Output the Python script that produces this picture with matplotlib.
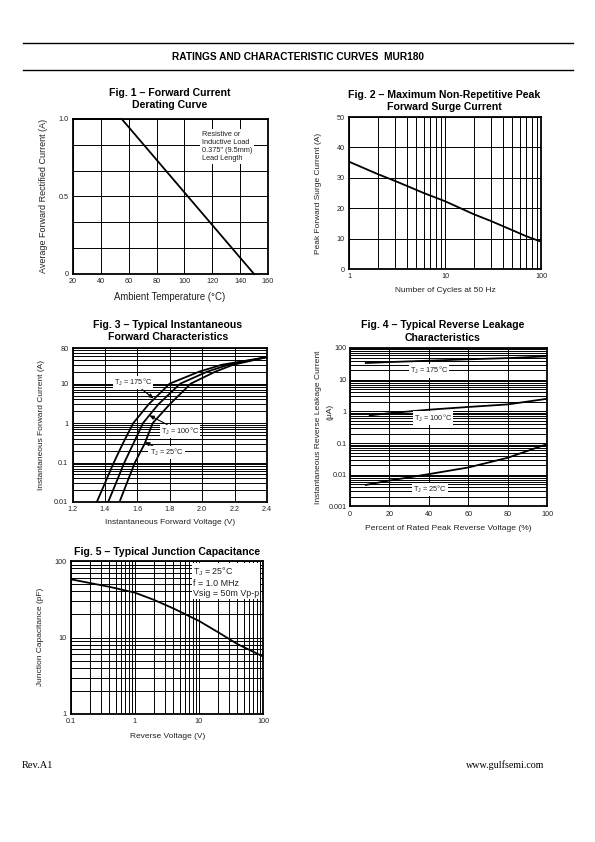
import numpy as np
import matplotlib
matplotlib.use("Agg")
import matplotlib.pyplot as plt
from matplotlib.ticker import FixedLocator, NullFormatter, LogLocator

plt.rcParams['font.family'] = ['Liberation Sans', 'DejaVu Sans']

# ---------------- data ----------------
fig1_temp = [20, 55, 150]
fig1_current = [1.0, 1.0, 0.0]

fig2_cycles = [1, 2, 3, 6, 10, 20, 30, 50, 70, 100]
fig2_current = [35.3, 31.2, 29.0, 25.0, 22.3, 18.0, 15.8, 12.8, 10.8, 9.0]

fig3_current = [0.01, 0.03, 0.1, 0.3, 1, 3, 10, 20, 30, 47]
fig3_v175 = [1.35, 1.40, 1.455, 1.51, 1.575, 1.67, 1.80, 1.98, 2.12, 2.40]
fig3_v100 = [1.42, 1.468, 1.52, 1.575, 1.635, 1.73, 1.865, 2.03, 2.16, 2.40]
fig3_v25 = [1.49, 1.535, 1.585, 1.645, 1.695, 1.80, 1.93, 2.08, 2.19, 2.40]

fig4_pct175 = [8, 20, 40, 60, 80, 100]
fig4_i175 = [33.6, 36.0, 39.8, 44.0, 48.0, 54.6]
fig4_pct100 = [10, 20, 40, 60, 80, 100]
fig4_i100 = [0.75, 0.88, 1.13, 1.38, 1.66, 2.5]
fig4_pct25 = [8, 20, 40, 60, 80, 100]
fig4_i25 = [0.0048, 0.0066, 0.0105, 0.017, 0.0344, 0.093]

fig5_voltage = [0.1, 0.4, 1, 2, 4, 10, 20, 40, 100]
fig5_cap = [57.7, 46.0, 38.6, 31.0, 24.0, 16.5, 11.7, 8.2, 5.65]

# ---------------- figure ----------------
W, H = 595, 842
fig = plt.figure(figsize=(5.95, 8.42), dpi=100)
fig.patch.set_facecolor('white')


def px_axes(x0, y0, x1, y1):
    return fig.add_axes([x0 / W, 1 - y1 / H, (x1 - x0) / W, (y1 - y0) / H])


def ftext(x, y, s, **kw):
    return fig.text(x / W, 1 - y / H, s, **kw)


TICK_FS = 5.2
LABEL_FS = 6.0
TITLE_FS = 7.55
GRID_KW = dict(color='black', linewidth=0.7)


def style(ax):
    for sp in ax.spines.values():
        sp.set_linewidth(1.3)
        sp.set_color('black')
    ax.tick_params(which='both', length=0, labelsize=TICK_FS, pad=3,
                   labelcolor='#222222')
    ax.set_axisbelow(True)


# header
fig.add_artist(plt.Line2D([22.7 / W, 573 / W], [1 - 43.3 / H, 1 - 43.3 / H],
                          color='black', linewidth=1.0))
fig.add_artist(plt.Line2D([22.7 / W, 573 / W], [1 - 70.3 / H, 1 - 70.3 / H],
                          color='black', linewidth=1.0))
ftext(297.5, 56.5, 'RATINGS AND CHARACTERISTIC CURVES  MUR180',
      ha='center', va='center', fontsize=7.3, fontweight='bold')

# ---------------- Fig 1 ----------------
ax1 = px_axes(73, 119, 268, 274)
ax1.plot(fig1_temp, fig1_current, color='black', linewidth=1.3, clip_on=False)
ax1.set_xlim(20, 160)
ax1.set_ylim(0, 1.0)
ax1.set_xticks([20, 40, 60, 80, 100, 120, 140, 160])
ax1.set_yticks([0, 0.5, 1.0])
ax1.set_yticklabels(['0', '0.5', '1.0'])
ax1.yaxis.set_minor_locator(FixedLocator([1 / 6, 2 / 6, 4 / 6, 5 / 6]))
ax1.grid(True, which='both', **GRID_KW)
style(ax1)
ax1.text(112.5, 0.925, 'Resistive or\nInductive Load\n0.375" (9.5mm)\nLead Length',
         fontsize=5.3, va='top', ha='left', linespacing=1.25, color='#222222',
         bbox=dict(facecolor='white', edgecolor='none', pad=1.0))
ftext(170, 92.5, 'Fig. 1 – Forward Current', ha='center', va='center',
      fontsize=TITLE_FS, fontweight='bold')
ftext(170, 105, 'Derating Curve', ha='center', va='center',
      fontsize=TITLE_FS, fontweight='bold')
ftext(43, 196, 'Average Forward Rectified Current (A)', rotation=90,
      ha='center', va='center', fontsize=6.5, color='#222222')
ftext(170, 297, 'Ambient Temperature (°C)', ha='center', va='center',
      fontsize=6.9, color='#222222')

# ---------------- Fig 2 ----------------
ax2 = px_axes(349, 117, 541, 269)
ax2.plot(fig2_cycles, fig2_current, color='black', linewidth=1.3)
ax2.set_xscale('log')
ax2.set_xlim(1, 100)
ax2.set_ylim(0, 50)
ax2.set_xticks([1, 10, 100])
ax2.set_xticklabels(['1', '10', '100'])
ax2.xaxis.set_minor_locator(LogLocator(base=10, subs=range(2, 10)))
ax2.xaxis.set_minor_formatter(NullFormatter())
ax2.set_yticks([0, 10, 20, 30, 40, 50])
ax2.grid(True, which='both', **GRID_KW)
style(ax2)
ftext(444, 95, 'Fig. 2 – Maximum Non-Repetitive Peak', ha='center', va='center',
      fontsize=TITLE_FS, fontweight='bold')
ftext(444, 106.5, 'Forward Surge Current', ha='center', va='center',
      fontsize=TITLE_FS, fontweight='bold')
ftext(318, 193, 'Peak Forward Surge Current (A)', rotation=90,
      ha='center', va='center', fontsize=LABEL_FS, color='#222222')
ftext(445, 290, 'Number of Cycles at 50 Hz', ha='center', va='center',
      fontsize=LABEL_FS, color='#222222')

# ---------------- Fig 3 ----------------
ax3 = px_axes(72.5, 348, 267, 502)
for v in (fig3_v175, fig3_v100, fig3_v25):
    ax3.plot(v, fig3_current, color='black', linewidth=1.3)
ax3.set_yscale('log')
ax3.set_xlim(1.2, 2.4)
ax3.set_ylim(0.01, 80)
ax3.set_xticks([1.2, 1.4, 1.6, 1.8, 2.0, 2.2, 2.4])
ax3.set_xticklabels(['1.2', '1.4', '1.6', '1.8', '2.0', '2.2', '2.4'])
ax3.set_yticks([0.01, 0.1, 1, 10, 80])
ax3.set_yticklabels(['0.01', '0.1', '1', '10', '80'])
ax3.yaxis.set_minor_locator(LogLocator(base=10, subs=range(2, 10)))
ax3.yaxis.set_minor_formatter(NullFormatter())
ax3.grid(True, which='both', **GRID_KW)
style(ax3)
lbl_kw = dict(fontsize=5.3, ha='center', va='center', color='#222222',
              bbox=dict(facecolor='white', edgecolor='none', pad=0.8))
arr_kw = dict(arrowstyle='-|>,head_length=0.5,head_width=0.22', color='black',
              linewidth=0.8, shrinkA=0, shrinkB=0)
ax3.annotate('T$_\\mathregular{J}$ = 175°C', xy=(1.70, 4.2), xytext=(1.575, 10.6),
             arrowprops=arr_kw, **lbl_kw)
ax3.annotate('T$_\\mathregular{J}$ = 100°C', xy=(1.674, 1.57), xytext=(1.864, 0.62),
             arrowprops=arr_kw, **lbl_kw)
ax3.annotate('T$_\\mathregular{J}$ = 25°C', xy=(1.647, 0.33), xytext=(1.78, 0.178),
             arrowprops=arr_kw, **lbl_kw)
ftext(168, 325, 'Fig. 3 – Typical Instantaneous', ha='center', va='center',
      fontsize=TITLE_FS, fontweight='bold')
ftext(168, 337.5, 'Forward Characteristics', ha='center', va='center',
      fontsize=TITLE_FS, fontweight='bold')
ftext(42, 425, 'Instantaneous Forward Current (A)', rotation=90,
      ha='center', va='center', fontsize=LABEL_FS, color='#222222')
ftext(170, 523, 'Instantaneous Forward Voltage (V)', ha='center', va='center',
      fontsize=LABEL_FS, color='#222222')

# ---------------- Fig 4 ----------------
ax4 = px_axes(350, 348, 547, 506.5)
ax4.plot(fig4_pct175, fig4_i175, color='black', linewidth=1.3)
ax4.plot(fig4_pct100, fig4_i100, color='black', linewidth=1.3)
ax4.plot(fig4_pct25, fig4_i25, color='black', linewidth=1.3)
ax4.set_yscale('log')
ax4.set_xlim(0, 100)
ax4.set_ylim(0.001, 100)
ax4.set_xticks([0, 20, 40, 60, 80, 100])
ax4.set_yticks([0.001, 0.01, 0.1, 1, 10, 100])
ax4.set_yticklabels(['0.001', '0.01', '0.1', '1', '10', '100'])
ax4.yaxis.set_minor_locator(LogLocator(base=10, subs=range(2, 10)))
ax4.yaxis.set_minor_formatter(NullFormatter())
ax4.grid(True, which='both', **GRID_KW)
style(ax4)
ax4.tick_params(axis='y', pad=2.5)
lbl4 = dict(fontsize=5.3, ha='center', va='center', color='#222222',
            bbox=dict(facecolor='white', edgecolor='none', pad=0.8))
ax4.text(40, 19, 'T$_\\mathregular{J}$ = 175°C', **lbl4)
ax4.text(42, 0.62, 'T$_\\mathregular{J}$ = 100°C', **lbl4)
ax4.text(40.5, 0.0034, 'T$_\\mathregular{J}$ = 25°C', **lbl4)
ftext(443, 325, 'Fig. 4 – Typical Reverse Leakage', ha='center', va='center',
      fontsize=TITLE_FS, fontweight='bold')
ftext(443, 338, 'Characteristics', ha='center', va='center',
      fontsize=TITLE_FS, fontweight='bold')
ftext(319, 427, 'Instantaneous Reverse Leakage Current', rotation=90,
      ha='center', va='center', fontsize=6.1, color='#222222')
ftext(330, 412, '(μA)', rotation=90,
      ha='center', va='center', fontsize=6.1, color='#222222')
ftext(448, 528, 'Percent of Rated Peak Reverse Voltage (%)', ha='center',
      va='center', fontsize=6.1, color='#222222')

# ---------------- Fig 5 ----------------
ax5 = px_axes(70.7, 561, 263, 714)
ax5.plot(fig5_voltage, fig5_cap, color='black', linewidth=1.3)
ax5.set_xscale('log')
ax5.set_yscale('log')
ax5.set_xlim(0.1, 100)
ax5.set_ylim(1, 100)
ax5.set_xticks([0.1, 1, 10, 100])
ax5.set_xticklabels(['0.1', '1', '10', '100'])
ax5.set_yticks([1, 10, 100])
ax5.set_yticklabels(['1', '10', '100'])
for axis in (ax5.xaxis, ax5.yaxis):
    axis.set_minor_locator(LogLocator(base=10, subs=range(2, 10)))
    axis.set_minor_formatter(NullFormatter())
ax5.grid(True, which='both', **GRID_KW)
style(ax5)
ax5.text(0.636, 0.968, 'T$_\\mathregular{J}$ = 25°C\nf = 1.0 MHz\nVsig = 50m Vp-p',
         transform=ax5.transAxes, fontsize=6.4, ha='left', va='top',
         linespacing=1.1, color='#222222', multialignment='left',
         bbox=dict(facecolor='white', edgecolor='none', pad=0.8))
ftext(167, 552, 'Fig. 5 – Typical Junction Capacitance', ha='center', va='center',
      fontsize=TITLE_FS, fontweight='bold')
ftext(40, 637, 'Junction Capacitance (pF)', rotation=90,
      ha='center', va='center', fontsize=LABEL_FS, color='#222222')
ftext(168, 737, 'Reverse Voltage (V)', ha='center', va='center',
      fontsize=LABEL_FS, color='#222222')

# footer
ftext(22, 765, 'Rev.A1', ha='left', va='center', fontsize=7.5,
      family=['Liberation Serif', 'DejaVu Serif'])
ftext(544, 765, 'www.gulfsemi.com', ha='right', va='center', fontsize=7.2,
      family=['Liberation Serif', 'DejaVu Serif'])

fig.savefig('out.png', dpi=100, facecolor='white')
